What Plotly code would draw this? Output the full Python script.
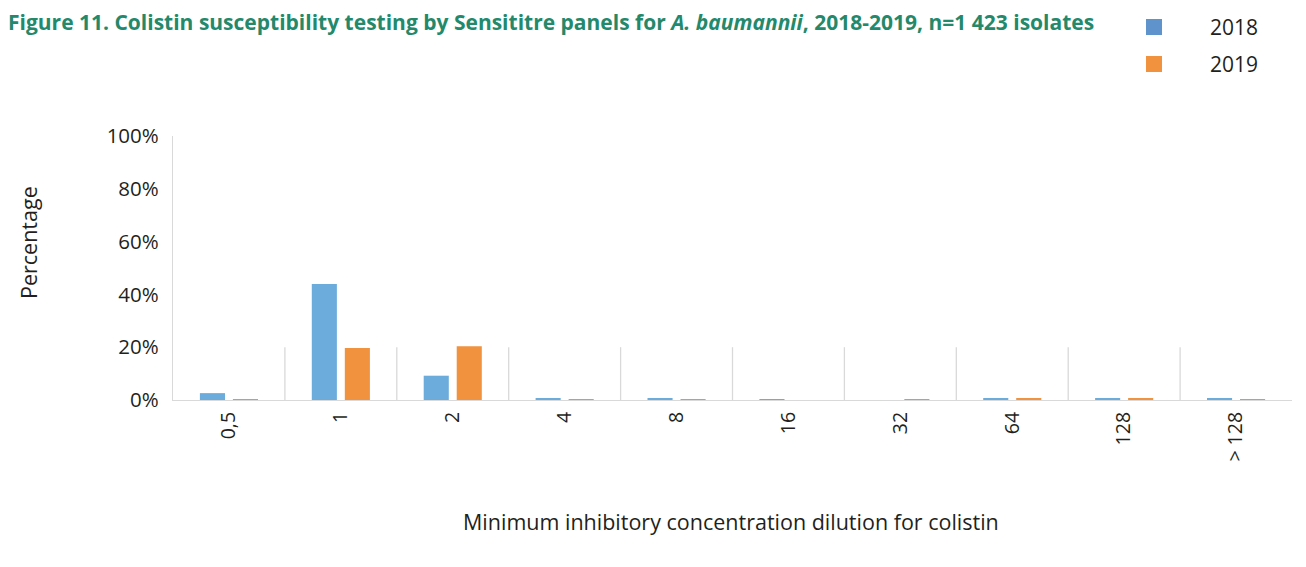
import plotly.graph_objects as go

categories = ["0,5", "1", "2", "4", "8", "16", "32", "64", "128", "> 128"]
values_2018 = [2.6, 43.9, 9.2, 0.4, 0.5, 0.3, 0.0, 0.6, 0.4, 0.4]
values_2019 = [0.3, 19.7, 20.4, 0.2, 0.2, 0.0, 0.2, 0.5, 0.4, 0.2]
y_ticks = [0, 20, 40, 60, 80, 100]
y_tick_labels = ["0%", "20%", "40%", "60%", "80%", "100%"]

FONT = "Open Sans"
TXT = "#231f20"
BLUE = "#6cacdc"
ORANGE = "#f0923e"
GRID = "#d9d9d9"

L, T, W, H = 173, 136, 1119, 264

fig = go.Figure()
fig.add_trace(go.Bar(name="2018", x=categories, y=values_2018, marker_color=BLUE,
                     marker_line_width=0))
fig.add_trace(go.Bar(name="2019", x=categories, y=values_2019, marker_color=ORANGE,
                     marker_line_width=0))

shapes = []
for i in range(1, len(categories)):
    shapes.append(dict(type="line", xref="x", yref="y", x0=i - 0.5, x1=i - 0.5,
                       y0=0, y1=20, line=dict(color=GRID, width=1.3), layer="below"))

fig.update_layout(
    width=1306, height=567,
    margin=dict(l=L, r=1306 - L - W, t=T, b=567 - T - H),
    paper_bgcolor="white", plot_bgcolor="white",
    barmode="group", bargap=0.41, bargroupgap=0.24,
    showlegend=False,
    font=dict(family=FONT, color=TXT, size=18),
    shapes=shapes,
    xaxis=dict(showline=True, linecolor=GRID, linewidth=1.3, ticks="",
               tickangle=-90, tickfont=dict(size=19.5, family=FONT, color=TXT),
               ticklabelstandoff=3,
               showgrid=False, range=[-0.5, 9.5]),
    yaxis=dict(range=[0, 100], tickvals=y_ticks, ticktext=y_tick_labels,
               showline=True, linecolor=GRID, linewidth=1.3, showgrid=False,
               zeroline=False, ticks="", ticklabelstandoff=9,
               tickfont=dict(size=20.5, family=FONT, color=TXT)),
)


def px(x):
    return (x - L) / W


def py(y):
    return (T + H - y) / H


# title
fig.add_annotation(xref="paper", yref="paper", x=px(6), y=py(22),
                   xanchor="left", yanchor="middle", showarrow=False,
                   text="<b>Figure 11. Colistin susceptibility testing by Sensititre panels for <i>A. baumannii</i>, 2018-2019, n=1 423 isolates</b>",
                   font=dict(size=21, color="#24896b", family=FONT))
# axis titles
fig.add_annotation(xref="paper", yref="paper", x=px(28), y=py(243),
                   xanchor="center", yanchor="middle", showarrow=False, textangle=-90,
                   text="Percentage", font=dict(size=21.5, color=TXT, family=FONT))
fig.add_annotation(xref="paper", yref="paper", x=px(731), y=py(521),
                   xanchor="center", yanchor="middle", showarrow=False,
                   text="Minimum inhibitory concentration dilution for colistin",
                   font=dict(size=21.5, color=TXT, family=FONT))

# legend (custom)
leg = [("2018", "#5e93cc", 27), ("2019", "#f0923e", 64)]
for name, col, yy in leg:
    fig.add_shape(type="rect", xref="paper", yref="paper",
                  x0=px(1146), x1=px(1162), y0=py(yy + 8), y1=py(yy - 8),
                  fillcolor=col, line_width=0)
    fig.add_annotation(xref="paper", yref="paper", x=px(1208), y=py(yy),
                       xanchor="left", yanchor="middle", showarrow=False,
                       text=name, font=dict(size=21, color=TXT, family=FONT))

fig.write_html("out.html", config={"displayModeBar": False},
               post_script="document.body.style.margin='0';")
